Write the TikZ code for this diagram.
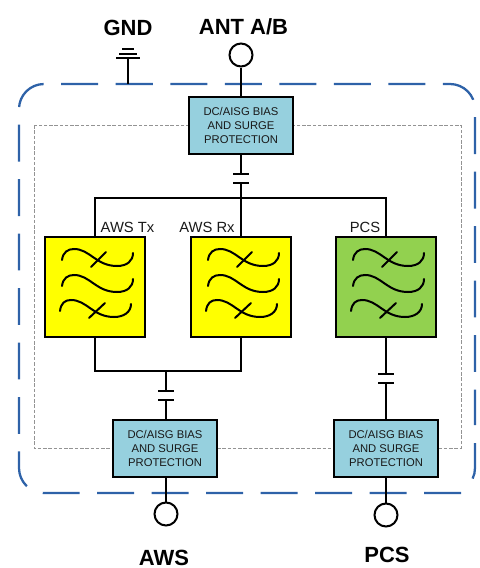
\documentclass[tikz,border=0pt]{standalone}
\usepackage{fontspec}
\setmainfont{Liberation Sans}
\usepackage{tikz}
\usetikzlibrary{positioning}
\definecolor{biasblue}{RGB}{150,208,222}
\definecolor{pcsgreen}{RGB}{146,209,79}
\definecolor{filtyellow}{RGB}{255,255,0}
\definecolor{linkblue}{RGB}{46,98,168}
\tikzstyle{wire}=[draw=black, line width=1.14pt]
\tikzstyle{bias}=[fill=biasblue, draw=black, line width=1.14pt, shape=rectangle, minimum width=2.08cm, minimum height=1.14cm, inner sep=0pt, align=center, font=\fontsize{6.4}{7.7}\selectfont, text=black!90]
\tikzstyle{filt}=[draw=black, line width=1.14pt, shape=rectangle, minimum width=2cm, minimum height=2cm]
\tikzstyle{port}=[fill=white, draw=black, line width=1.14pt, shape=circle, minimum size=.46cm, inner sep=0pt]
\tikzstyle{plate}=[fill=black, shape=rectangle, minimum width=.33cm, minimum height=1.14pt, inner sep=0pt]
\tikzstyle{head}=[font=\fontsize{12.5}{14}\selectfont\bfseries, inner sep=0pt]
\tikzstyle{tag}=[font=\fontsize{8.4}{10}\selectfont, text=black!90, inner sep=0pt]
\tikzstyle{link}=[linkblue, line width=1.3pt, dash pattern=on 21pt off 10pt, rounded corners=.5cm]
\tikzset{
  waves/.pic={
    \draw[wire, line cap=round] (18,24) .. controls (19,16) and (24,13) .. (30,13) .. controls (46,13) and (52,30) .. (73,30) .. controls (83,30) and (89,25) .. (89,17);
    \draw[wire, line cap=round] (18,50) .. controls (19,42) and (24,39) .. (30,39) .. controls (46,39) and (52,56) .. (73,56) .. controls (83,56) and (89,51) .. (89,43);
    \draw[wire, line cap=round] (16,75) .. controls (17,67) and (21,64) .. (27,64) .. controls (43,64) and (49,81) .. (70,81) .. controls (80,81) and (87,76) .. (87,68);
    \draw[wire, line cap=round] (47,31) -- (62,16);
    \draw[wire, line cap=round] (45,82) -- (61,67);
  }
}

\begin{document}
\begin{tikzpicture}[x=.2mm, y=-.2mm]
	\useasboundingbox (0,0) rectangle (480,568);

	\draw[gray!85, line width=.4pt, dash pattern=on 2pt off 1pt] (34,125) rectangle (461,448);
	\draw[style=link] (116,84) -- (475,84) -- (475,425);
	\draw[linkblue, line width=1.3pt] (475,443) -- (475,468) arc[start angle=0, end angle=25, radius=25];
	\draw[style=link] (461,493) -- (19,493) -- (19,84) -- (116,84);

	\node[style=bias] (topbias) at (241,125.5) {DC/AISG BIAS\\AND SURGE\\PROTECTION};
	\node[style=bias] (awsbias) at (165,448.5) {DC/AISG BIAS\\AND SURGE\\PROTECTION};
	\node[style=bias] (pcsbias) at (386,448.5) {DC/AISG BIAS\\AND SURGE\\PROTECTION};

	\node[style=filt, fill=filtyellow] (txfilt) at (95,287) {};
	\node[style=filt, fill=filtyellow] (rxfilt) at (241,287) {};
	\node[style=filt, fill=pcsgreen] (pcsfilt) at (386,287) {};
	\pic at (txfilt.north west) {waves};
	\pic at (rxfilt.north west) {waves};
	\pic at (pcsfilt.north west) {waves};

	\node[style=port] (antport) at (241,55) {};
	\node[style=port] (awsport) at (166,514) {};
	\node[style=port] (pcsport) at (386,515) {};

	\node[style=plate] (topcapa) at (241,174) {};
	\node[style=plate] (topcapb) at (241,183) {};
	\node[style=plate] (awscapa) at (166,391) {};
	\node[style=plate] (awscapb) at (166,400) {};
	\node[style=plate] (pcscapa) at (386,374) {};
	\node[style=plate] (pcscapb) at (386,383) {};

	\coordinate (topbus) at (241,198);
	\coordinate (awsbus) at (166,371);
	\coordinate (gndfoot) at (128,84);

	\node[style=plate, minimum width=.48cm] (gnda) at (128,58) {};
	\node[style=plate, minimum width=.35cm] (gndb) at (128,54) {};
	\node[style=plate, minimum width=.25cm] (gndc) at (128,49) {};

	\draw[style=wire] (antport) -- (topbias);
	\draw[style=wire] (topbias) -- (topcapa);
	\draw[style=wire] (topcapb) -- (topbus);
	\draw[style=wire] (txfilt) |- (topbus) -| (pcsfilt);
	\draw[style=wire] (topbus) -- (rxfilt);
	\draw[style=wire] (txfilt) |- (awsbus) -| (rxfilt);
	\draw[style=wire] (awsbus) -- (awscapa);
	\draw[style=wire] (awscapb) -- (awscapb |- awsbias.north);
	\draw[style=wire] (pcsfilt) -- (pcscapa);
	\draw[style=wire] (pcscapb) -- (pcsbias);
	\draw[style=wire] (awsport |- awsbias.south) -- (awsport);
	\draw[style=wire] (pcsbias) -- (pcsport);
	\draw[style=wire] (gnda) -- (gndfoot);

	\node[style=head] (gndlabel) at (128,28) {GND};
	\node[style=head] (antlabel) at (243.5,27) {ANT A/B};
	\node[style=head] (awslabel) at (164,558) {AWS};
	\node[style=head] (pcslabel) at (387,555) {PCS};

	\node[style=tag] (txlabel) at (127.5,227) {AWS Tx};
	\node[style=tag] (rxlabel) at (207,227) {AWS Rx};
	\node[style=tag] (pcstag) at (365,227) {PCS};
\end{tikzpicture}
\end{document}
